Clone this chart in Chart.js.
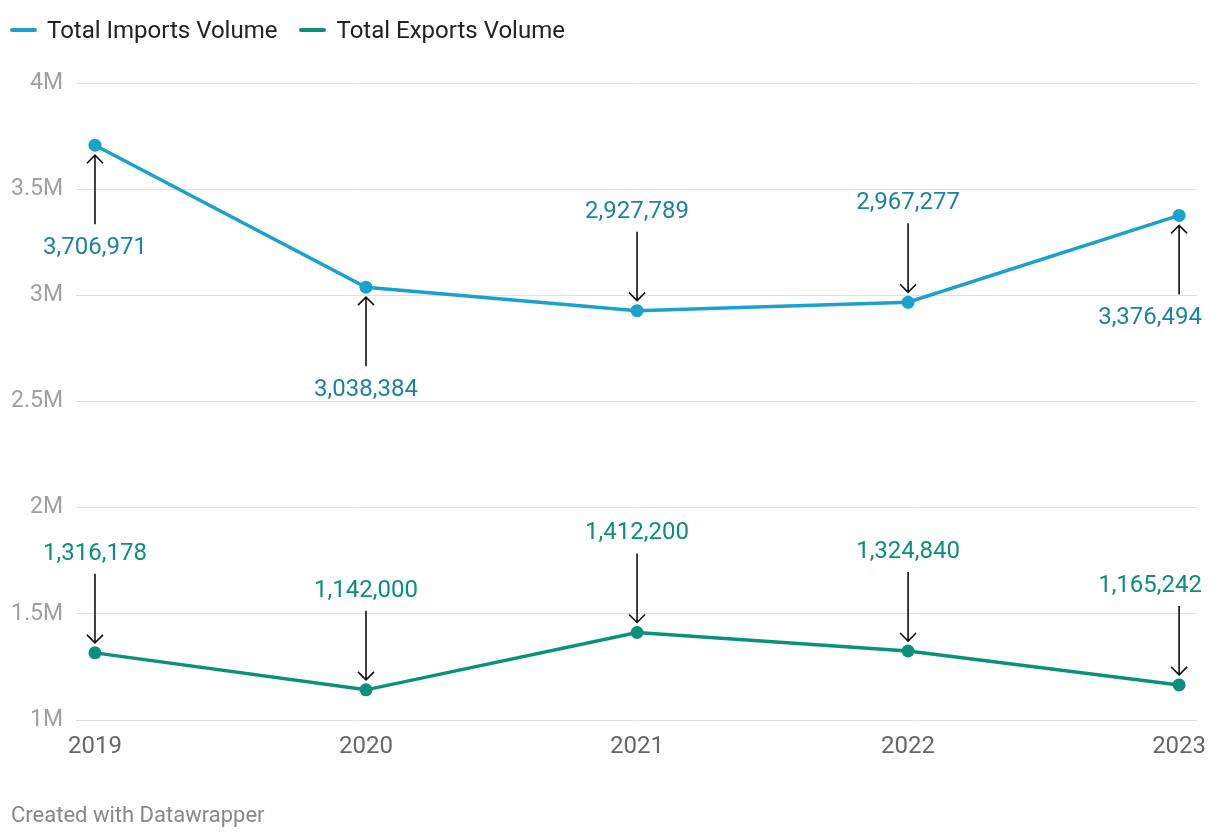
<!DOCTYPE html>
<html>
<head>
<meta charset="utf-8">
<script src="https://cdn.jsdelivr.net/npm/chart.js@4"></script>
<style>
  html, body { margin:0; padding:0; background:#fff; }
  body { width:1220px; height:838px; position:relative; overflow:hidden; font-family: Roboto, "Noto Sans", sans-serif; }
  #c { position:absolute; left:0; top:0; }
  #legend { position:absolute; left:10px; top:16px; height:28px; line-height:28px; display:flex; align-items:center; font-size:24px; color:#222; }
  .li { display:flex; align-items:center; margin-right:22px; }
  .sw { width:27px; height:4px; border-radius:2px; margin-right:10px; }
  #footer { position:absolute; left:11px; top:801px; line-height:28px; font-size:22px; color:#888; }
</style>
</head>
<body>
<canvas id="c" width="1220" height="838"></canvas>
<div id="legend"></div>
<div id="footer">Created with Datawrapper</div>
<script>
const years = [2019, 2020, 2021, 2022, 2023];
const importsVolume = [3706971, 3038384, 2927789, 2967277, 3376494];
const exportsVolume = [1316178, 1142000, 1412200, 1324840, 1165242];
const yTicks = [1000000, 1500000, 2000000, 2500000, 3000000, 3500000, 4000000];
const seriesNames = ['Total Imports Volume', 'Total Exports Volume'];

const IMP = '#1aa1cd', IMP_TXT = '#1d82a5';
const EXP = '#0a917a', EXP_TXT = '#0b8f77';

// legend (HTML)
const lg = document.getElementById('legend');
[[seriesNames[0], IMP], [seriesNames[1], EXP]].forEach(([n, c]) => {
  const d = document.createElement('div'); d.className = 'li';
  d.innerHTML = '<div class="sw" style="background:' + c + '"></div><span>' + n + '</span>';
  lg.appendChild(d);
});

const sides = [
  ['below', 'below', 'above', 'above', 'below'],
  ['above', 'above', 'above', 'above', 'above']
];
const textColors = [IMP_TXT, EXP_TXT];

const arrowPlugin = {
  id: 'arrows',
  afterDatasetsDraw(chart) {
    const ctx = chart.ctx;
    ctx.save();
    chart.data.datasets.forEach((ds, di) => {
      const meta = chart.getDatasetMeta(di);
      meta.data.forEach((pt, i) => {
        const x = pt.x, y = pt.y;
        const dir = sides[di][i] === 'above' ? -1 : 1;
        const tail = y + dir * 79;
        const head = y + dir * 10;
        ctx.strokeStyle = '#111';
        ctx.lineWidth = 1.6;
        ctx.beginPath();
        ctx.moveTo(x, tail); ctx.lineTo(x, head);
        ctx.moveTo(x - 8, head + dir * 8); ctx.lineTo(x, head); ctx.lineTo(x + 8, head + dir * 8);
        ctx.stroke();
        const v = ds.data[i].y;
        const txt = v.toLocaleString('en-US');
        ctx.font = '24px Roboto';
        ctx.fillStyle = textColors[di];
        ctx.textBaseline = 'middle';
        ctx.textAlign = 'center';
        const w = ctx.measureText(txt).width;
        let tx = x;
        if (tx + w / 2 > 1202) tx = 1202 - w / 2;
        ctx.fillText(txt, tx, y + dir * 101 + 2);
      });
    });
    ctx.restore();
  }
};

new Chart(document.getElementById('c'), {
  type: 'line',
  data: {
    datasets: [
      { label: seriesNames[0], data: years.map((yr, i) => ({ x: yr, y: importsVolume[i] })),
        borderColor: IMP, backgroundColor: IMP, borderWidth: 3.5, pointRadius: 6.5,
        pointBackgroundColor: IMP, pointBorderWidth: 0, tension: 0, clip: false },
      { label: seriesNames[1], data: years.map((yr, i) => ({ x: yr, y: exportsVolume[i] })),
        borderColor: EXP, backgroundColor: EXP, borderWidth: 3.5, pointRadius: 6.5,
        pointBackgroundColor: EXP, pointBorderWidth: 0, tension: 0, clip: false }
    ]
  },
  options: {
    responsive: false,
    animation: false,
    events: [],
    layout: { padding: { top: 83, right: 23, bottom: 68, left: 0 } },
    plugins: { legend: { display: false }, tooltip: { enabled: false } },
    scales: {
      x: {
        type: 'linear',
        min: 2018.93, max: 2023.066,
        afterBuildTicks: s => { s.ticks = years.map(v => ({ value: v })); },
        afterFit: s => { s.height = 50; },
        grid: { display: false, drawTicks: false },
        border: { display: false },
        ticks: { padding: 13, color: '#666', font: { family: 'Roboto', size: 24 },
                 maxRotation: 0, autoSkip: false, callback: v => String(v) }
      },
      y: {
        min: 1000000, max: 4000000,
        afterBuildTicks: s => { s.ticks = yTicks.map(v => ({ value: v })); },
        afterFit: s => { s.width = 76; },
        grid: { color: '#e0e0e0', lineWidth: 1, drawTicks: false },
        border: { display: false },
        ticks: { padding: 13, color: '#a0a0a0', font: { family: 'Roboto', size: 23 },
                 callback: v => (v / 1000000) + 'M' }
      }
    }
  },
  plugins: [arrowPlugin]
});
</script>
</body>
</html>
